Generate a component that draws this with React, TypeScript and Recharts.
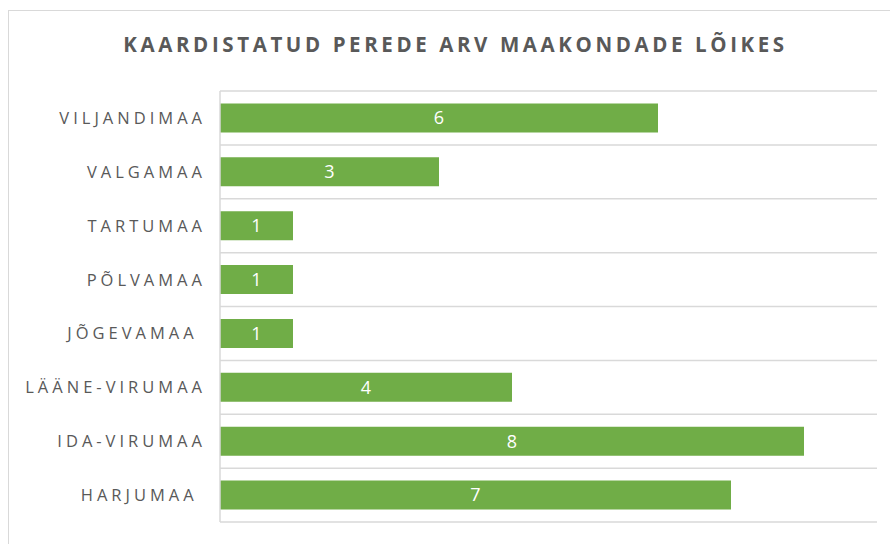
import React from 'react';
import { BarChart, Bar, XAxis, YAxis, CartesianGrid, LabelList } from 'recharts';

const title = 'KAARDISTATUD PEREDE ARV MAAKONDADE LÕIKES';
const categories = ['VILJANDIMAA', 'VALGAMAA', 'TARTUMAA', 'PÕLVAMAA', 'JÕGEVAMAA ', 'LÄÄNE-VIRUMAA', 'IDA-VIRUMAA', 'HARJUMAA '];
const values = [6, 3, 1, 1, 1, 4, 8, 7];
const xDomain = [0, 9];

const data = categories.map((c, i) => ({ name: c, value: values[i] }));

const FONT = '"Open Sans", sans-serif';
const TEXT = '#595959';
const GRID = '#d9d9d9';
const GREEN = '#70AD47';

const Tick = (props: any) => {
  const { x, y, payload } = props;
  return (
    <text
      x={x}
      y={y}
      dy={6}
      textAnchor="end"
      fill={TEXT}
      fontFamily={FONT}
      fontSize={16.5}
      style={{ letterSpacing: '4px', whiteSpace: 'pre' }}
    >
      {payload.value}
    </text>
  );
};

export default function App() {
  return (
    <div style={{ position: 'absolute', left: 0, top: 0, width: 890, height: 544, overflow: 'hidden', background: '#fff' }}>
      <div style={{ position: 'absolute', left: 8, top: 10, width: 920, height: 600, border: `1px solid ${GRID}`, boxSizing: 'border-box' }} />
      <div
        style={{
          position: 'absolute',
          left: 8,
          top: 30,
          width: 895,
          textAlign: 'center',
          fontFamily: FONT,
          fontWeight: 700,
          fontSize: 20.5,
          letterSpacing: '3.6px',
          color: TEXT,
          lineHeight: '28px',
        }}
      >
        {title}
      </div>
      <div style={{ position: 'absolute', left: 0, top: 0 }}>
        <BarChart
          width={890}
          height={544}
          data={data}
          layout="vertical"
          margin={{ top: 91, right: 13, bottom: 22, left: 0 }}
          barCategoryGap="23%"
        >
          <CartesianGrid
            vertical={false}
            stroke={GRID}
            strokeWidth={1.5}
            horizontalCoordinatesGenerator={({ offset }: any) =>
              categories.map((_, i) => offset.top + (i * offset.height) / categories.length).concat([offset.top + offset.height])
            }
          />
          <XAxis type="number" domain={xDomain} hide />
          <YAxis
            type="category"
            dataKey="name"
            width={220}
            axisLine={{ stroke: GRID, strokeWidth: 1.5 }}
            tickLine={false}
            tickMargin={8}
            tick={<Tick />}
            interval={0}
          />
          <Bar dataKey="value" fill={GREEN} isAnimationActive={false}>
            <LabelList dataKey="value" position="center" fill="#ffffff" fontFamily={FONT} fontSize={18} />
          </Bar>
        </BarChart>
      </div>
    </div>
  );
}
